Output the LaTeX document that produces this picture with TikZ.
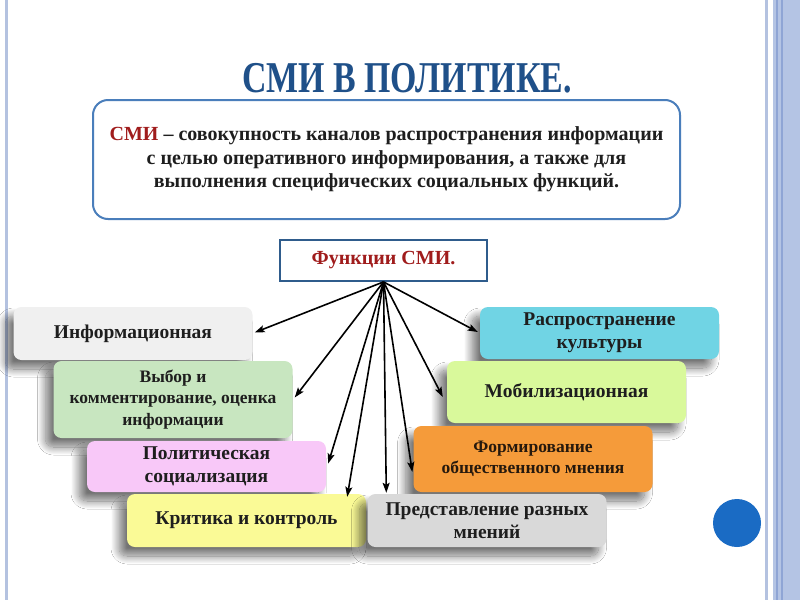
\documentclass[tikz,border=0pt]{standalone}
\usepackage{fontspec}
\setmainfont{Liberation Serif}
\usetikzlibrary{shadows.blur,arrows.meta,calc}
\definecolor{titleblue}{HTML}{1F5089}
\definecolor{darkred}{HTML}{A01C1C}
\definecolor{defborder}{HTML}{4A7EBB}
\definecolor{funcborder}{HTML}{2F5C8C}
\definecolor{bandblue}{HTML}{B4C4E4}
\definecolor{banddark}{HTML}{8FA5D5}
\definecolor{linelight}{HTML}{B4C2E0}
\definecolor{cInfo}{HTML}{F0F0F0}
\definecolor{cVybor}{HTML}{C8E6C0}
\definecolor{cPolit}{HTML}{F8C8F8}
\definecolor{cKrit}{HTML}{FAFA96}
\definecolor{cPred}{HTML}{D9D9D9}
\definecolor{cForm}{HTML}{F59B3A}
\definecolor{cMob}{HTML}{D9F99B}
\definecolor{cRasp}{HTML}{70D4E4}
\definecolor{circ}{HTML}{1A6BC4}
\definecolor{txt}{HTML}{1E1E1E}
\begin{document}
\begin{tikzpicture}[x=1pt,y=-1pt,
  fbox/.style={rounded corners=8pt, minimum width=239pt, inner sep=2pt,
    align=center, text=txt, font=\fontsize{19.5}{23}\selectfont\bfseries,
    blur shadow={shadow xshift=-8pt, shadow yshift=-9pt, shadow blur radius=8pt, shadow blur steps=20, shadow opacity=55}},
  small/.style={font=\fontsize{17.5}{21.5}\selectfont\bfseries},
  arr/.style={line width=1.6pt, -{Stealth[length=10pt,width=7pt,inset=2pt]}}
]
\useasboundingbox (0,0) rectangle (800,600);
\fill[white] (0,0) rectangle (800,600);
% side decorations
\fill[linelight] (5,0) rectangle (8,600);
\fill[linelight] (765,0) rectangle (768,600);
\fill[bandblue] (773,0) rectangle (800,600);
\fill[banddark] (776,0) rectangle (777.5,600);
\fill[banddark] (781,0) rectangle (782.5,600);
% title
\node[text=titleblue, font=\fontsize{44}{48}\selectfont\bfseries] (title) at (407,78) {\scalebox{0.77}[1]{СМИ В ПОЛИТИКЕ.}};
% definition box
\node[draw=defborder, line width=2pt, rounded corners=15pt, fill=white,
  minimum width=587pt, minimum height=119pt, align=center,
  font=\fontsize{20}{23.5}\selectfont\bfseries, text=txt] (def) at (386.5,159.5)
  {\textcolor{darkred}{СМИ} – совокупность каналов распространения информации\\
   с целью оперативного информирования, а также для\\
   выполнения специфических социальных функций.};
% functions box
\node[draw=funcborder, line width=1.8pt, fill=white, minimum width=207pt, minimum height=41pt,
  text=darkred, font=\fontsize{20}{22}\selectfont\bfseries] (funcs) at (383.5,260.5) {Функции СМИ.};
\coordinate (hub) at (funcs.south);
% boxes
\node[fbox, fill=cInfo, minimum height=53pt] (info) at (133,333.5) {Информационная};
\node[fbox, fill=cVybor, minimum height=77pt, small] (vybor) at (173,399.5) {Выбор и\\комментирование, оценка\\информации};
\node[fbox, fill=cPolit, minimum height=51pt] (polit) at (206.5,466.5) {Политическая\\социализация};
\node[fbox, fill=cKrit, minimum height=53pt] (krit) at (246.5,520.5) {Критика и контроль};
\node[fbox, fill=cRasp, minimum height=52pt] (rasp) at (599.5,333) {Распространение\\культуры};
\node[fbox, fill=cMob, minimum height=62pt] (mob) at (566.5,392) {Мобилизационная};
\node[fbox, fill=cForm, minimum height=66pt, small, text=black!80!brown] (form) at (533,459) {Формирование\\общественного мнения};
\node[fbox, fill=cPred, minimum height=53pt] (pred) at (487,520.5) {Представление разных\\мнений};
% arrows
\draw[arr] (hub) -- ($(info.east)+(2,-1)$);
\draw[arr] (hub) -- ($(vybor.east)+(2,-2)$);
\draw[arr] (hub) -- ($(polit.east)+(2,-3)$);
\draw[arr] (hub) -- ($(krit.north east)+(-19,3)$);
\draw[arr] (hub) -- ($(pred.north west)+(19,-1)$);
\draw[arr] (hub) -- ($(form.west)+(-1,13)$);
\draw[arr] (hub) -- ($(mob.west)+(-4,5)$);
\draw[arr] (hub) -- ($(rasp.west)+(-2,-1)$);
% circle
\fill[circ] (737,523) circle (24);
\end{tikzpicture}
\end{document}
